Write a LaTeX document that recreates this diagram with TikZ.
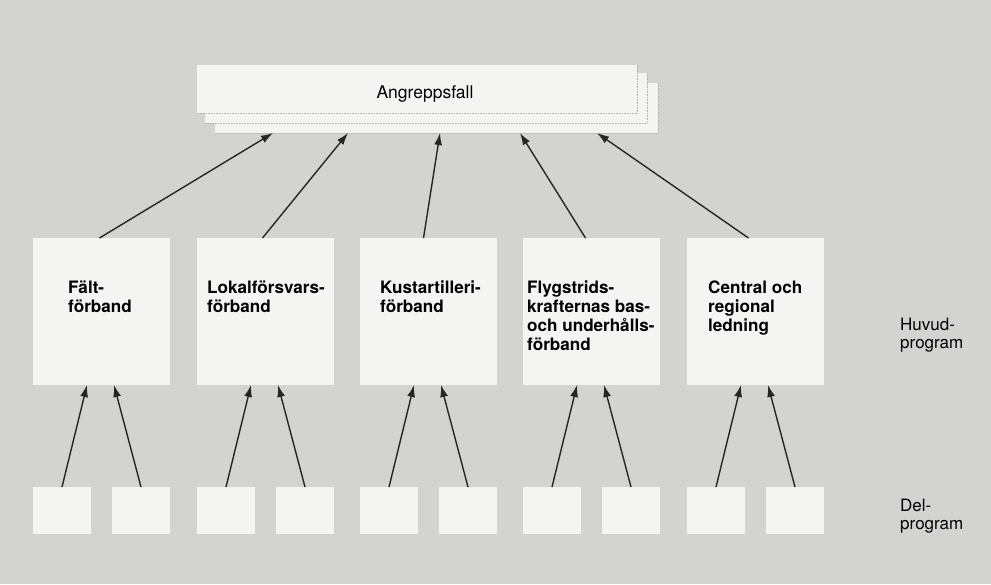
\documentclass[tikz,border=0pt]{standalone}
\usepackage{fontspec}
\setmainfont{TeX Gyre Heros}
\usetikzlibrary{arrows.meta}
\definecolor{paper}{HTML}{D3D3D1}
\definecolor{cardfill}{HTML}{F4F4F2}
\definecolor{ink}{HTML}{262626}
\begin{document}
\begin{tikzpicture}[x=1pt,y=-1pt,
  card/.style={fill=cardfill, draw=none, inner sep=0pt, outer sep=0pt, anchor=north west},
  mainbox/.style={card, minimum width=137pt, minimum height=147pt},
  subbox/.style={card, minimum width=58pt, minimum height=47pt},
  sheet/.style={card},
  sheetedge/.style={draw=black!30, densely dotted, line width=0.6pt},
  % multi-line labels: the base anchor sits on the last line
  unitlabel/.style={anchor=base west, inner sep=0pt, align=left,
    font=\fontsize{17.1}{19}\selectfont\bfseries},
  sidelabel/.style={anchor=base west, inner sep=0pt, align=left,
    font=\fontsize{17}{17.5}\selectfont},
  link/.style={draw=ink, line width=1.4pt, -{Latex[length=12pt,width=8pt]}}
]
% page
\fill[paper] (0,0) rectangle (991,584);
\useasboundingbox (0,0) rectangle (991,584);

% stacked sheets for the attack cases, dotted along their lower right edges
\node[sheet, minimum width=443pt, minimum height=50pt] (sheet3) at (215,83) {};
\draw[sheetedge] (sheet3.north east) -- (sheet3.south east) -- (sheet3.south west);
\node[sheet, minimum width=442pt, minimum height=50pt] (sheet2) at (205,73) {};
\draw[sheetedge] (sheet2.north east) -- (sheet2.south east) -- (sheet2.south west);
\node[sheet, minimum width=440pt, minimum height=48pt] (sheet1) at (197,65) {};
\draw[sheetedge] (sheet1.north east) -- (sheet1.south east) -- (sheet1.south west);
\node[anchor=base, inner sep=0pt, font=\fontsize{17.5}{20}\selectfont] (angrepp) at (425,98) {Angreppsfall};

% main programmes
\node[mainbox] (f1) at (33,238) {};
\node[mainbox] (f2) at (197,238) {};
\node[mainbox] (f3) at (360,238) {};
\node[mainbox] (f4) at (523,238) {};
\node[mainbox] (f5) at (687,238) {};

\node[unitlabel] (t1) at (68,312) {Fält-\\förband};
\node[unitlabel] (t2) at (207,312) {Lokalförsvars-\\förband};
\node[unitlabel] (t3) at (380,312) {Kustartilleri-\\förband};
\node[unitlabel] (t4) at (527,350) {Flygstrids-\\krafternas bas-\\och underhålls-\\förband};
\node[unitlabel] (t5) at (708,331) {Central och\\regional\\ledning};

% sub-programmes
\foreach \i/\x in {1/33,2/197,3/360,4/523,5/687}{
  \node[subbox] (d\i a) at (\x,487) {};
  \node[subbox] (d\i b) at (\x+79,487) {};
  \draw[link] (d\i a.north) -- ([xshift=54pt]f\i.south west);
  \draw[link] (d\i b.north) -- ([xshift=81pt]f\i.south west);
}

% main programmes feed the attack cases
\draw[link] ([xshift=-2pt]f1.north) -- ([xshift=58pt]sheet3.south west);
\draw[link] ([xshift=-3pt]f2.north) -- ([xshift=133pt]sheet3.south west);
\draw[link] ([xshift=-5pt]f3.north) -- ([xshift=225pt]sheet3.south west);
\draw[link] ([xshift=-6pt]f4.north) -- ([xshift=305pt]sheet3.south west);
\draw[link] ([xshift=-7pt]f5.north) -- ([xshift=382pt]sheet3.south west);

% level captions
\node[sidelabel] (huvud) at (900,348) {Huvud-\\program};
\node[sidelabel] (del) at (900,529) {Del-\\program};
\end{tikzpicture}
\end{document}
